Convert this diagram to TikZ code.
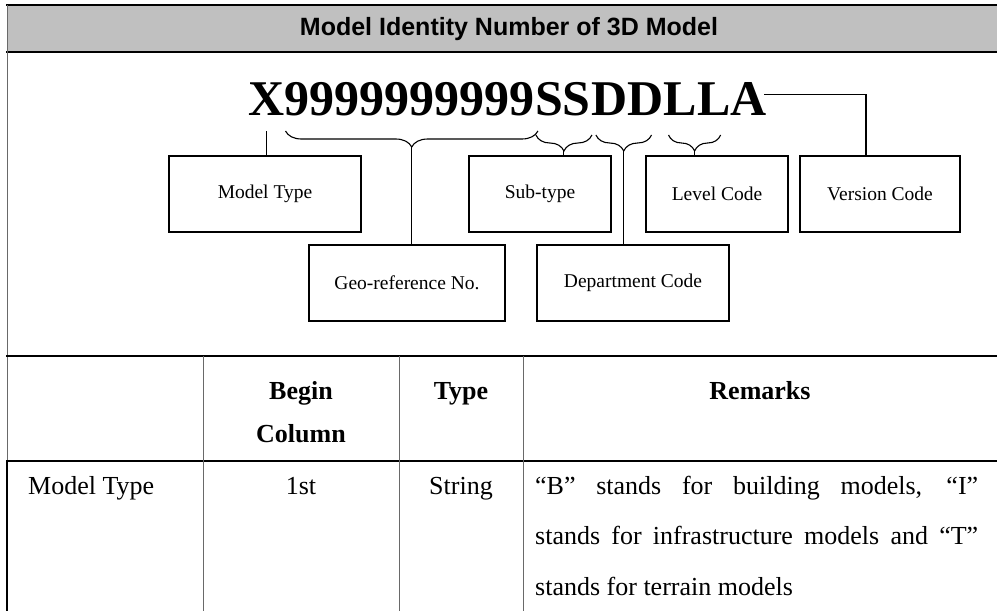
\documentclass[tikz,border=0pt]{standalone}
\usepackage{fontspec}
\setmainfont{Liberation Serif}
\newfontfamily\headfont{Liberation Sans}
\usetikzlibrary{decorations.pathreplacing,calc}
\definecolor{hdrgray}{RGB}{192,192,192}
\definecolor{rulegray}{RGB}{105,105,105}

\begin{document}
\begin{tikzpicture}[x=1pt,y=-1pt,
	bigtxt/.style={font=\fontsize{50}{60}\selectfont\bfseries, inner sep=0, anchor=base west},
	idbox/.style={draw, line width=1.2pt, minimum width=#1, minimum height=76, inner sep=0, font=\fontsize{19.5}{22}\selectfont},
	brc/.style={decorate, decoration={brace, mirror, amplitude=16pt}, line width=1.1pt},
	ln/.style={line width=1.1pt},
	thk/.style={line width=2.2pt},
	col/.style={line width=1pt, rulegray},
	cell/.style={font=\fontsize{26}{43}\selectfont, inner sep=0, anchor=base},
	headcell/.style={cell, font=\fontsize{26}{43}\selectfont\bfseries, align=center}]
	\useasboundingbox (0,0) rectangle (997,611);

	% title band
	\fill[hdrgray] (7,5) rectangle (997,52);
	\draw[thk] (6,5) -- (997,5);
	\draw[thk] (6,52) -- (997,52);
	\node[font=\headfont\fontsize{25}{28}\selectfont\bfseries] (title) at (509,29) {Model Identity Number of 3D Model};

	% identity number, one node per field
	\node[bigtxt] (tx) at (248,115) {X};
	\node[bigtxt] (t9) at (tx.base east) {9999999999};
	\node[bigtxt] (ts) at (t9.base east) {SS};
	\node[bigtxt] (td) at (ts.base east) {DD};
	\node[bigtxt] (tl) at (td.base east) {LL};
	\node[bigtxt] (ta) at (tl.base east) {A};

	% field boxes
	\node[idbox=192] (mtype) at (265,194) {Model Type};
	\node[idbox=142] (sub) at (540,194) {Sub-type};
	\node[idbox=142] (lvl) at (717,194) {Level Code};
	\node[idbox=160] (ver) at (880,194) {Version Code};
	\node[idbox=196] (geo) at (407,283) {Geo-reference No.};
	\node[idbox=192] (dept) at (633,283) {Department Code};

	% braces under the fields
	\draw[brc] ([shift={(1,16)}]t9.base west) -- ([shift={(3,16)}]t9.base east);
	\draw[brc] ([shift={(1,20)}]ts.base west) -- ([shift={(1,20)}]ts.base east);
	\draw[brc] ([shift={(5,20)}]td.base west) -- ([shift={(-12,20)}]td.base east);
	\draw[brc] ([shift={(5,20)}]tl.base west) -- ([shift={(-10,20)}]tl.base east);
	\coordinate (bx) at ([shift={(0,16)}]tx.base);
	\coordinate (b9) at ($(t9.base west)!.5!(t9.base east)+(2,32)$);
	\coordinate (bs) at ($(ts.base west)!.5!(ts.base east)+(1,36)$);
	\coordinate (bd) at ($(td.base west)!.5!(td.base east)+(-3.5,36)$);
	\coordinate (bl) at ($(tl.base west)!.5!(tl.base east)+(-2.5,36)$);

	% connectors
	\draw[ln] (bx) -- (bx |- mtype.north);
	\draw[ln] (b9) -- (b9 |- geo.north);
	\draw[ln] (bs) -- (bs |- sub.north);
	\draw[ln] (bd) -- (bd |- dept.north);
	\draw[ln] (bl) -- (bl |- lvl.north);
	\draw[ln] ([shift={(-3,-4)}]ta.east) -| ([xshift=-14pt]ver.north);

	% table
	\draw[col] (7,5) -- (7,461);
	\draw[thk] (7,461) -- (7,611);
	\draw[thk] (6,356) -- (997,356);
	\draw[thk] (6,461) -- (997,461);
	\foreach \cx in {203,399,523}
		\draw[col] (\cx,356) -- (\cx,611);
	\node[headcell] (hbegin) at (301,442) {Begin\\Column};
	\node[headcell] (htype) at (461,399) {Type};
	\node[headcell] (hrem) at (760,399) {Remarks};
	\node[cell, anchor=base west] (rname) at (28,494) {Model Type};
	\node[cell] (rbegin) at (301,494) {1st};
	\node[cell] (rtype) at (461,494) {String};
	\node[cell, anchor=base west, text width=443pt, align=justify, font=\fontsize{26}{50.5}\selectfont] (rrem) at (535,494)
		{“B” stands for building models, “I”\linebreak stands for infrastructure models and “T”\linebreak stands for terrain models};
\end{tikzpicture}
\end{document}
